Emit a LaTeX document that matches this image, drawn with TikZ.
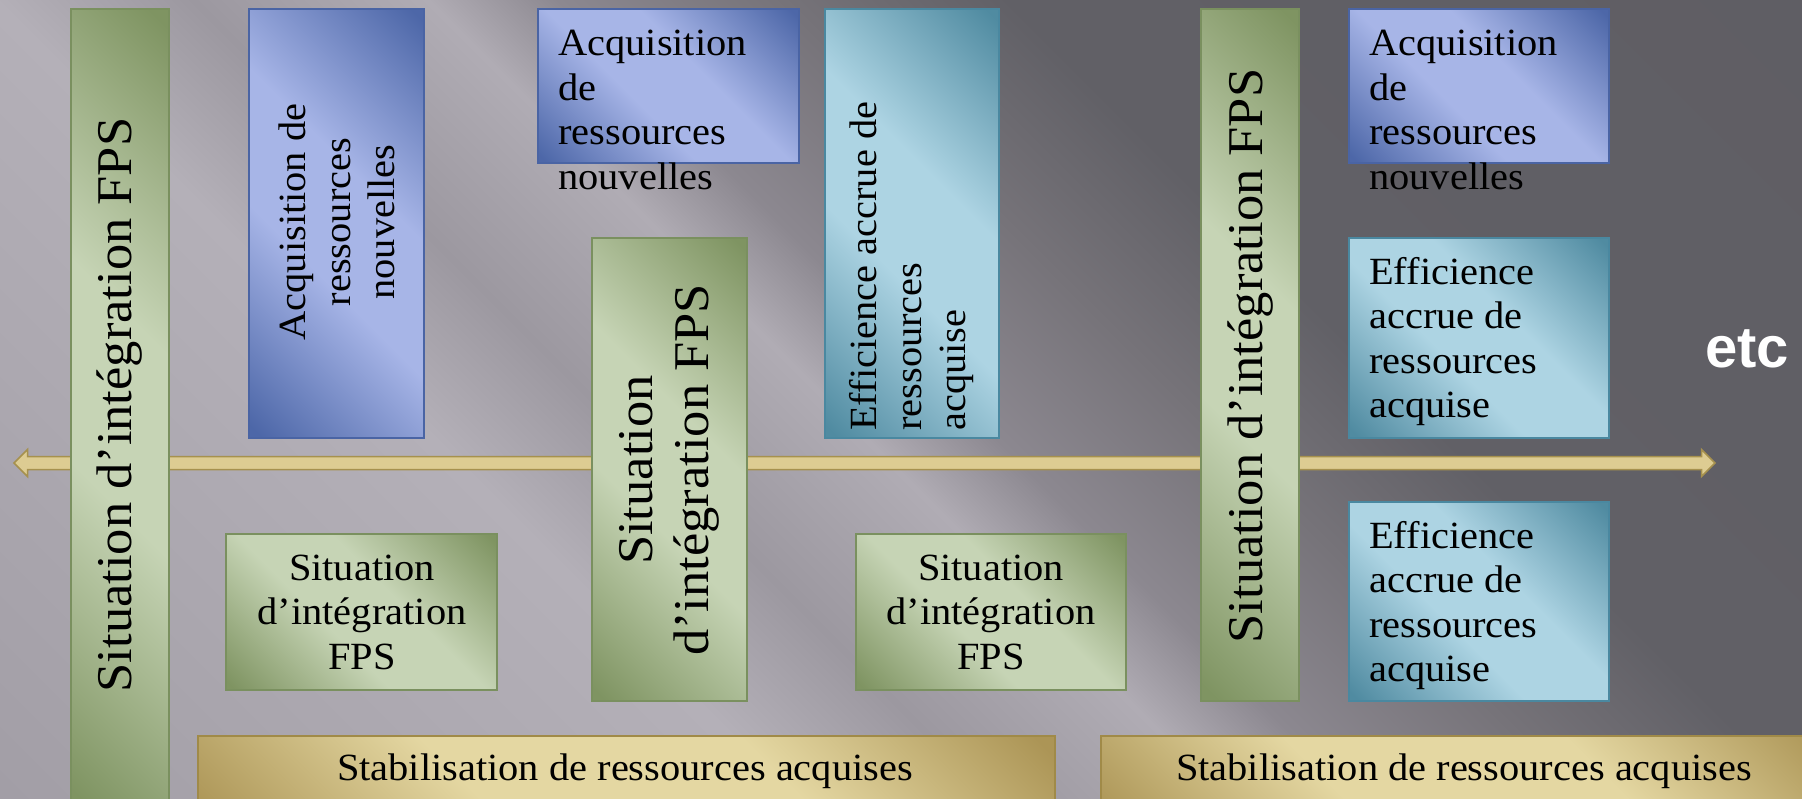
\documentclass[tikz,border=0pt]{standalone}
\usepackage{fontspec}
\setmainfont{Liberation Serif}[FakeStretch=1.05]
\newfontfamily\etcfamily{Liberation Sans}
\usetikzlibrary{calc}
\definecolor{gL}{HTML}{C6D4B5}
\definecolor{gD}{HTML}{7F9462}
\definecolor{gB}{HTML}{7A905F}
\definecolor{bL}{HTML}{A7B5E7}
\definecolor{bD}{HTML}{4D67A8}
\definecolor{bB}{HTML}{4A64A4}
\definecolor{tL}{HTML}{ADD4E3}
\definecolor{tD}{HTML}{508BA1}
\definecolor{tB}{HTML}{4A88A0}
\definecolor{yL}{HTML}{E4D7A2}
\definecolor{yD}{HTML}{AC9556}
\definecolor{yB}{HTML}{A08A48}
\definecolor{arF}{HTML}{DDCC92}
\definecolor{arB}{HTML}{A6914E}
\definecolor{bg1}{HTML}{A29EA6}
\definecolor{bg2}{HTML}{B4B0B8}
\definecolor{bg3}{HTML}{9C98A0}
\definecolor{bg4}{HTML}{B0ACB4}
\definecolor{bg5}{HTML}{8C8890}
\definecolor{bg6}{HTML}{767379}
\definecolor{bg7}{HTML}{616066}
\definecolor{bg8}{HTML}{5C5A60}
\pgfdeclarehorizontalshading{glassG}{100bp}{color(0bp)=(gD); color(16bp)=(gD); color(42bp)=(gL); color(58bp)=(gL); color(84bp)=(gD); color(100bp)=(gD)}
\pgfdeclarehorizontalshading{glassB}{100bp}{color(0bp)=(bD); color(16bp)=(bD); color(42bp)=(bL); color(58bp)=(bL); color(84bp)=(bD); color(100bp)=(bD)}
\pgfdeclarehorizontalshading{glassT}{100bp}{color(0bp)=(tD); color(16bp)=(tD); color(42bp)=(tL); color(58bp)=(tL); color(84bp)=(tD); color(100bp)=(tD)}
\pgfdeclarehorizontalshading{glassY}{100bp}{color(0bp)=(yD); color(16bp)=(yD); color(38bp)=(yL); color(62bp)=(yL); color(84bp)=(yD); color(100bp)=(yD)}
\pgfdeclarehorizontalshading{bgshade}{100bp}{color(0bp)=(bg1); color(27bp)=(bg1); color(41bp)=(bg2); color(44.5bp)=(bg3); color(48.7bp)=(bg4); color(51bp)=(bg5); color(55bp)=(bg6); color(59bp)=(bg7); color(100bp)=(bg8)}
\newcommand\body{\fontsize{38.5}{44.5}\selectfont}
\newcommand\bigbody{\fontsize{50}{56}\selectfont}
\newcommand\etcfont{\etcfamily\bfseries\fontsize{58}{60}\selectfont}
\tikzset{
  panel/.style={shade, shading angle=45, line width=1.8pt, inner sep=0pt, outer sep=0pt, anchor=north west},
  gpanel/.style={panel, shading=glassG, draw=gB},
  bpanel/.style={panel, shading=glassB, draw=bB},
  tpanel/.style={panel, shading=glassT, draw=tB},
  ypanel/.style={panel, shading=glassY, draw=yB},
  txt/.style={font=\body, text=black, inner sep=0pt},
  bigtxt/.style={font=\bigbody, text=black, inner sep=0pt},
  arrowsty/.style={fill=arF, draw=arB, line width=1.5pt, line join=miter},
}
\begin{document}
\begin{tikzpicture}[x=1pt,y=-1pt]
\useasboundingbox (0,0) rectangle (1802,799);
\clip (0,0) rectangle (1802,799);
% background
\shade[shading=bgshade, shading angle=45] (-99,-600.5) rectangle (1901,1399.5);
% axis arrow
\coordinate (aL) at (14,463);
\coordinate (aR) at (1715,463);
\draw[arrowsty] (aL) -- ($(aL)+(13.5,-13.5)$) -- ($(aL)+(13.5,-6.5)$) -- ($(aR)+(-13.5,-6.5)$) -- ($(aR)+(-13.5,-13.5)$) -- (aR) -- ($(aR)+(-13.5,13.5)$) -- ($(aR)+(-13.5,6.5)$) -- ($(aL)+(13.5,6.5)$) -- ($(aL)+(13.5,13.5)$) -- cycle;
% panels
\node[gpanel, minimum width=98pt, minimum height=800pt] (g1) at (71,9) {};
\node[bpanel, minimum width=175pt, minimum height=429pt] (b1) at (249,9) {};
\node[bpanel, minimum width=261pt, minimum height=154pt] (b2) at (538,9) {};
\node[tpanel, minimum width=174pt, minimum height=429pt] (t1) at (825,9) {};
\node[gpanel, minimum width=155pt, minimum height=463pt] (g2) at (592,238) {};
\node[gpanel, minimum width=271pt, minimum height=156pt] (s1) at (226,534) {};
\node[gpanel, minimum width=270pt, minimum height=156pt] (s2) at (856,534) {};
\node[gpanel, minimum width=98pt, minimum height=692pt] (g3) at (1201,9) {};
\node[bpanel, minimum width=260pt, minimum height=154pt] (b3) at (1349,9) {};
\node[tpanel, minimum width=260pt, minimum height=200pt] (t2) at (1349,238) {};
\node[tpanel, minimum width=260pt, minimum height=199pt] (t3) at (1349,502) {};
\node[ypanel, minimum width=857pt, minimum height=95pt] (y1) at (198,736) {};
\node[ypanel, minimum width=740pt, minimum height=95pt] (y2) at (1101,736) {};
% texts
\node[bigtxt, rotate=90] (g1t) at (120,405) {Situation d’intégration FPS};
\node[txt, rotate=90, align=center] (b1t) at (337,222) {Acquisition de\\ressources\\nouvelles};
\node[txt, anchor=north west, align=left] (b2t) at (558,30) {Acquisition\\de\\ressources\\nouvelles};
\node[txt, rotate=90, anchor=west, align=left] (t1t) at (912,431) {Efficience accrue de\\ressources\\acquise};
\node[bigtxt, rotate=90, align=center] (g2t) at (669,470) {Situation\\d’intégration FPS};
\node[txt, align=center] (s1t) at (362,612) {Situation\\d’intégration\\FPS};
\node[txt, align=center] (s2t) at (991,612) {Situation\\d’intégration\\FPS};
\node[bigtxt, rotate=90] (g3t) at (1250,356) {Situation d’intégration FPS};
\node[txt, anchor=north west, align=left] (b3t) at (1369,30) {Acquisition\\de\\ressources\\nouvelles};
\node[txt, anchor=north west, align=left] (t2t) at (1369,257) {Efficience\\accrue de\\ressources\\acquise};
\node[txt, anchor=north west, align=left] (t3t) at (1369,521) {Efficience\\accrue de\\ressources\\acquise};
\node[txt] (y1t) at (625,771) {Stabilisation de ressources acquises};
\node[txt] (y2t) at (1464,771) {Stabilisation de ressources acquises};
\node[font=\etcfont, text=white, inner sep=0pt] (etc) at (1747,349) {etc};
\end{tikzpicture}
\end{document}
